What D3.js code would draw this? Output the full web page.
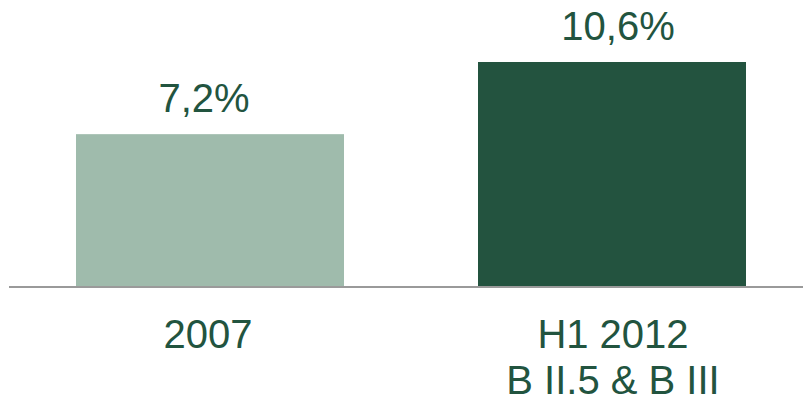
<!DOCTYPE html>
<html>
<head>
<meta charset="utf-8">
<script src="https://cdn.jsdelivr.net/npm/d3@7"></script>
<style>
  html, body { margin: 0; padding: 0; background: #ffffff; }
  svg { display: block; }
  text { font-family: "Liberation Sans", Arial, sans-serif; fill: #22543f; }
</style>
</head>
<body>
<svg id="chart" width="803" height="399"></svg>
<script>
// Category labels (multi-line), values in percent, value labels and bar fills
const categories = [["2007"], ["H1 2012", "B II.5 & B III"]];
const values = [7.2, 10.6];
const valueLabels = ["7,2%", "10,6%"];
const barColors = ["#9fbbac", "#23533f"];

const W = 803, H = 399;
const baseY = 287;
const fontSize = 40;
// small horizontal nudges of the value labels relative to the bar centre
const valueNudge = [-6, 6];

const svg = d3.select("#chart");

const x = d3.scaleBand()
  .domain(d3.range(values.length))
  .range([9, 813])
  .paddingInner(1 / 3)
  .paddingOuter(1 / 6);

const y = d3.scaleLinear()
  .domain([0, 10.6])
  .range([baseY, 62]);

// Bars
svg.selectAll("rect.bar")
  .data(values)
  .join("rect")
  .attr("class", "bar")
  .attr("x", (d, i) => x(i))
  .attr("y", d => y(d))
  .attr("width", x.bandwidth())
  .attr("height", d => y(0) - y(d))
  .attr("fill", (d, i) => barColors[i]);

// Baseline
svg.append("line")
  .attr("x1", 9).attr("x2", W)
  .attr("y1", baseY).attr("y2", baseY)
  .attr("stroke", "#9a9a9a")
  .attr("stroke-width", 2);

// Value labels above bars
svg.selectAll("text.val")
  .data(values)
  .join("text")
  .attr("class", "val")
  .attr("x", (d, i) => x(i) + x.bandwidth() / 2 + valueNudge[i])
  .attr("y", d => y(d) - 22)
  .attr("text-anchor", "middle")
  .style("font-size", fontSize + "px")
  .text((d, i) => valueLabels[i]);

// Category labels below baseline
const cat = svg.selectAll("text.cat")
  .data(categories)
  .join("text")
  .attr("class", "cat")
  .attr("text-anchor", "middle")
  .style("font-size", fontSize + "px");

cat.selectAll("tspan")
  .data((d, i) => d.map(line => ({ line, i })))
  .join("tspan")
  .attr("x", d => x(d.i) + x.bandwidth() / 2 + (d.i === 0 ? -2 : 1))
  .attr("y", (d, j) => 347.5 + j * 46)
  .text(d => d.line);
</script>
</body>
</html>
